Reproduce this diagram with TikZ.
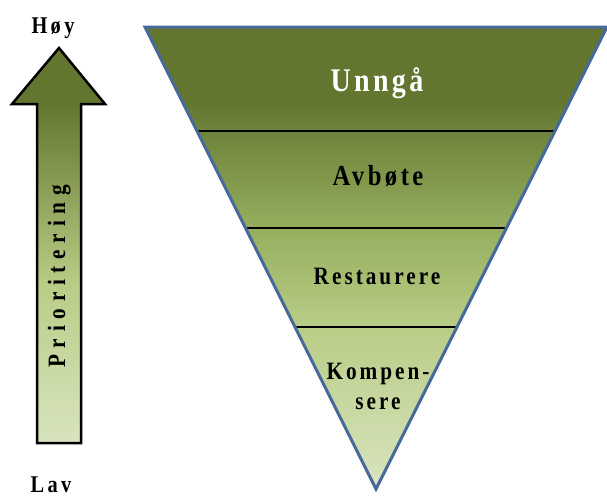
\documentclass[tikz,border=0pt]{standalone}
\usepackage{fontspec}
\setmainfont{Liberation Serif}
\newfontfamily\lvlfont[FakeStretch=0.85]{Liberation Serif}
\usetikzlibrary{calc}

\definecolor{darkolive}{RGB}{98,118,48}
\definecolor{midolive}{RGB}{150,175,95}
\definecolor{paleolive}{RGB}{185,205,135}
\definecolor{lightolive}{RGB}{216,228,190}
\definecolor{triblue}{RGB}{72,106,155}

\pgfdeclareverticalshading{trishade}{100bp}{color(0bp)=(lightolive); color(25bp)=(lightolive);
  color(42.5bp)=(paleolive); color(53bp)=(midolive); color(67bp)=(darkolive); color(100bp)=(darkolive)}
\pgfdeclareverticalshading{arrowshade}{100bp}{color(0bp)=(lightolive); color(25bp)=(lightolive);
  color(45bp)=(paleolive); color(68bp)=(darkolive); color(100bp)=(darkolive)}

% size, letter spacing
\newcommand\spaced[2]{\lvlfont\bfseries\fontsize{#1}{30}\selectfont\addfontfeature{LetterSpace=#2}}

\tikzset{
  level/.style={font=\spaced{25}{12}, align=center, anchor=base, inner sep=0pt},
  endlabel/.style={font=\spaced{24}{14}, anchor=base, inner sep=0pt},
  divider/.style={line width=2pt, black}
}

\begin{document}
\begin{tikzpicture}[x=1pt, y=-1pt]
    \useasboundingbox (0, 0) rectangle (607, 496);

    % priority arrow
    \filldraw[shading=arrowshade, draw=black, line width=2.5pt, line join=miter]
        (59, 48) -- (105, 104) -- (81, 104) -- (81, 443)
        -- (37, 443) -- (37, 104) -- (12, 104) -- cycle;
    \node[endlabel] (hoy) at (53, 33) {Høy};
    \node[endlabel] (lav) at (51, 492) {Lav};
    \node[font=\spaced{25}{27}, rotate=90, anchor=base west, inner sep=0pt] (prio) at (65, 368) {Prioritering};

    % inverted triangle
    \coordinate (tl) at (145, 27);
    \coordinate (tr) at (607, 27);
    \coordinate (tip) at (376, 489);
    \fill[shading=trishade] (tl) -- (tr) -- (tip) -- cycle;
        \draw[divider] ($(tl)!0.225!(tip)$) -- ($(tr)!0.225!(tip)$);
        \draw[divider] ($(tl)!0.435!(tip)$) -- ($(tr)!0.435!(tip)$);
        \draw[divider] ($(tl)!0.649!(tip)$) -- ($(tr)!0.649!(tip)$);
    \draw[triblue, line width=3pt, line join=miter] (tl) -- (tr) -- (tip) -- cycle;

    \node[level, white, font=\spaced{33}{10}] (avoid) at (377, 91) {Unngå};
    \node[level, font=\spaced{29}{12}] (mitigate) at (378, 185) {Avbøte};
    \node[level] (restore) at (377, 284) {Restaurere};
    \node[level, anchor=center] (compensate) at (378, 386) {Kompen-\\sere};
\end{tikzpicture}
\end{document}
